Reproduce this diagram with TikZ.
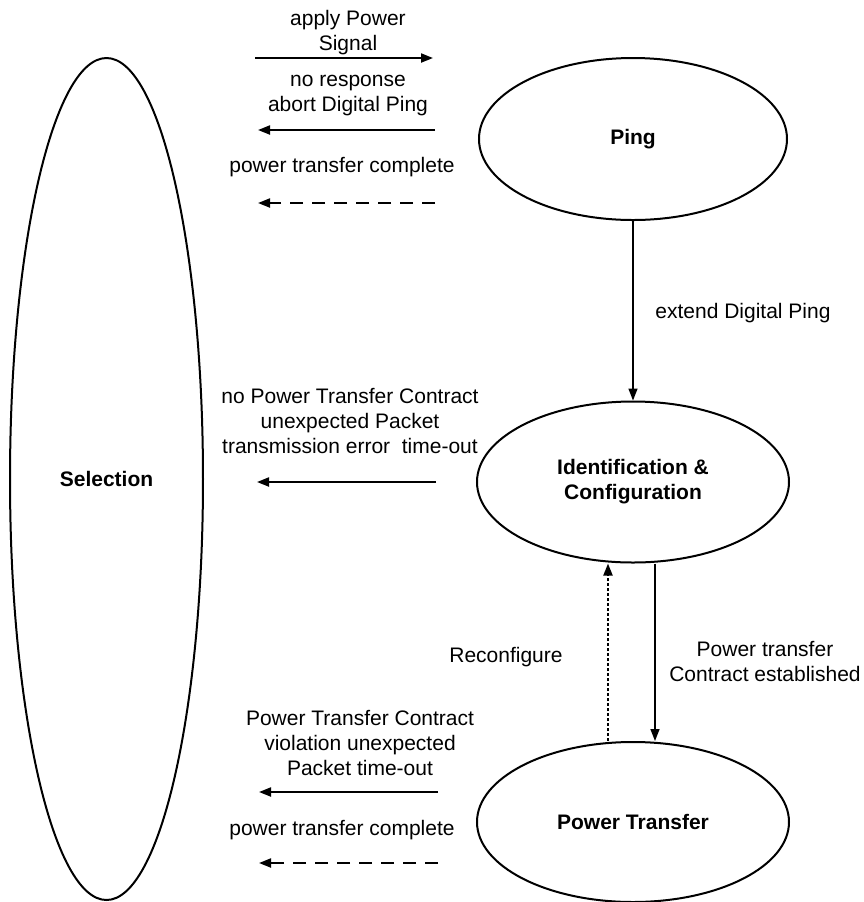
\documentclass[tikz,border=0pt]{standalone}
\usepackage{fontspec}
\setmainfont{Liberation Sans}
\usetikzlibrary{shapes.geometric,arrows.meta,calc}
\begin{document}
\begin{tikzpicture}[x=0.5pt,y=-0.5pt,
  state/.style={ellipse,draw,line width=1pt,inner sep=0pt,font=\fontsize{10.5}{12.5}\selectfont\bfseries,align=center},
  lbl/.style={align=center,inner sep=0pt,font=\fontsize{10.5}{12.5}\selectfont},
  arr/.style={line width=1pt,-{Triangle[length=6pt,width=4.5pt]}},
  dasharr/.style={arr,dash pattern=on 6.5pt off 4.5pt},
  vline/.style={line width=0.75pt,-{Triangle[length=6pt,width=4.5pt]}},
  dotarr/.style={line width=0.9pt,dash pattern=on 1.5pt off 1pt,-{Triangle[length=6pt,width=4.5pt]}}]
\useasboundingbox (0,0) rectangle (864,902);

% states
\node[state,minimum width=96.5pt,minimum height=421pt] (Sel) at (106.5,479) {Selection};
\node[state,minimum width=154pt,minimum height=81pt] (Ping) at (633,139) {Ping};
\node[state,minimum width=156pt,minimum height=80.5pt] (Ident) at (633,482) {Identification \&\\Configuration};
\node[state,minimum width=156pt,minimum height=80pt] (PT) at (633,822) {Power Transfer};

% free arrow ends
\coordinate (a1s) at (255,58);  \coordinate (a1e) at (433,58);
\coordinate (a2s) at (435,130); \coordinate (a2e) at (258,130);
\coordinate (a3s) at (435,203); \coordinate (a3e) at (258,203);
\coordinate (a4s) at (436,482); \coordinate (a4e) at (257,482);
\coordinate (a5s) at (438,792); \coordinate (a5e) at (259,792);
\coordinate (a6s) at (438,863); \coordinate (a6e) at (259,863);

\draw[arr] (a1s) -- (a1e);
\draw[arr] (a2s) -- (a2e);
\draw[dasharr] (a3s) -- (a3e);
\draw[arr] (a4s) -- (a4e);
\draw[arr] (a5s) -- (a5e);
\draw[dasharr] (a6s) -- (a6e);

% vertical transitions
\draw[vline] (Ping.south) -- (Ident.north);
\draw[vline] ($(Ident.south)+(22,0)$) -- ($(PT.north)+(22,0)$);
\draw[dotarr] ($(PT.north)+(-25,0)$) -- ($(Ident.south)+(-25,0)$);

% labels
\node[lbl] (l1) at (348,33) {apply Power\\Signal};
\node[lbl] (l2) at (348,96) {no response\\abort Digital Ping};
\node[lbl] (l3) at (342,167) {power transfer complete};
\node[lbl] (l4) at (743,313) {extend Digital Ping};
\node[lbl] (l5) at (350,421) {no Power Transfer Contract\\unexpected Packet\\transmission error\ \ time-out};
\node[lbl] (l6) at (506,657) {Reconfigure};
\node[lbl] (l7) at (765,661) {Power transfer\\Contract established};
\node[lbl] (l8) at (360,743) {Power Transfer Contract\\violation unexpected\\Packet time-out};
\node[lbl] (l9) at (342,830) {power transfer complete};
\end{tikzpicture}
\end{document}
